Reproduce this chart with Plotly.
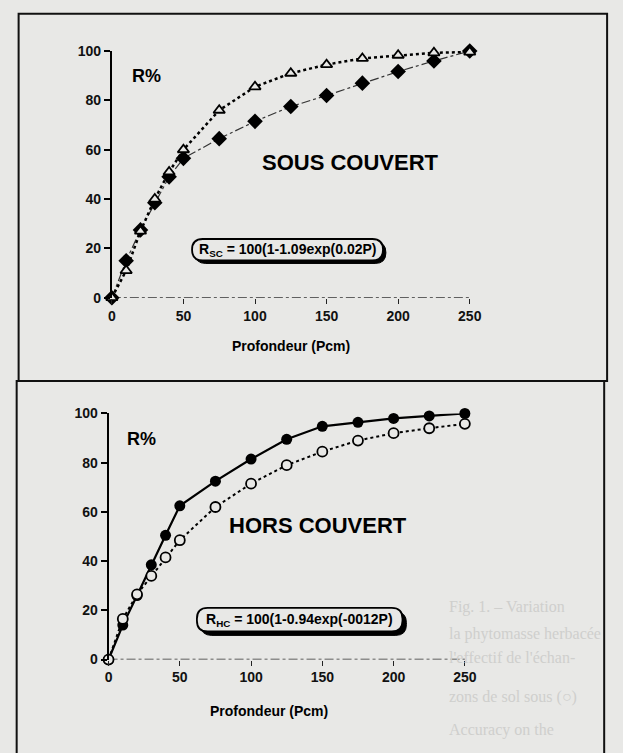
import plotly.graph_objects as go

# ---------------- data ----------------
depth = [0, 10, 20, 30, 40, 50, 75, 100, 125, 150, 175, 200, 225, 250]
sc_triangle = [0, 11, 27, 40, 51, 60, 76, 85.5, 91, 94.5, 97, 98.3, 99.3, 99.6]
sc_diamond = [0, 15, 27.5, 38.5, 49, 56.5, 64.5, 71.5, 77.5, 82, 87, 91.7, 96, 100]
hc_filled = [0, 14, 26, 38.5, 50.5, 62.5, 72.5, 81.5, 89.5, 94.8, 96.4, 98, 99, 100]
hc_open = [0, 16.5, 26.5, 34, 41.5, 48.5, 62, 71.5, 79, 84.5, 89, 92, 94, 95.8]
x_ticks = [0, 50, 100, 150, 200, 250]
y_ticks = [0, 20, 40, 60, 80, 100]

W, H = 623, 753
BG = "#e8e8e6"
FONT = "Liberation Sans, Arial, sans-serif"


def px(x):
    return x / W


def py(y):
    return 1 - y / H


fig = go.Figure()

# top chart (sous couvert)
fig.add_trace(go.Scatter(x=depth, y=sc_diamond, xaxis="x", yaxis="y", mode="lines+markers",
                         line=dict(color="#333", width=1.2, dash="dashdot"),
                         marker=dict(symbol="diamond", size=12, color="black"),
                         cliponaxis=False, showlegend=False))
fig.add_trace(go.Scatter(x=depth, y=sc_triangle, xaxis="x", yaxis="y", mode="lines+markers",
                         line=dict(color="black", width=2.5, dash="dot"),
                         marker=dict(symbol="triangle-up", size=10, color=BG,
                                     line=dict(color="black", width=1.8)),
                         cliponaxis=False, showlegend=False))

# bottom chart (hors couvert)
fig.add_trace(go.Scatter(x=depth, y=hc_filled, xaxis="x2", yaxis="y2", mode="lines+markers",
                         line=dict(color="black", width=2.2),
                         marker=dict(symbol="circle", size=11, color="black"),
                         cliponaxis=False, showlegend=False))
fig.add_trace(go.Scatter(x=depth, y=hc_open, xaxis="x2", yaxis="y2", mode="lines+markers",
                         line=dict(color="black", width=2, dash="dot"),
                         marker=dict(symbol="circle", size=10, color=BG,
                                     line=dict(color="black", width=1.8)),
                         cliponaxis=False, showlegend=False))

xcommon = dict(range=[0, 250], tickvals=x_ticks, ticks="outside", ticklen=5, tickwidth=1.2,
               tickcolor="#222", showline=False, showgrid=False, zeroline=False,
               tickfont=dict(family=FONT, size=14, color="#111", weight="bold"))
ycommon = dict(range=[0, 100], tickvals=y_ticks, ticks="outside", ticklen=6, tickwidth=1.5,
               tickcolor="black", showline=True, linecolor="black", linewidth=2,
               showgrid=False, zeroline=False,
               tickfont=dict(family=FONT, size=14, color="#111", weight="bold"))

fig.update_layout(
    width=W, height=H, margin=dict(l=0, r=0, t=0, b=0),
    paper_bgcolor=BG, plot_bgcolor="rgba(0,0,0,0)",
    xaxis=dict(domain=[px(110.7), px(478)], anchor="y", **xcommon),
    yaxis=dict(domain=[py(296), py(44)], anchor="x", **ycommon),
    xaxis2=dict(domain=[px(107.3), px(473)], anchor="y2", **xcommon),
    yaxis2=dict(domain=[py(665.7), py(414.3)], anchor="x2", **ycommon),
)


def rrect(x0, y0, x1, y1, r):
    X0, X1 = px(x0), px(x1)
    Y0, Y1 = py(y0), py(y1)
    rx, ry = r / W, r / H
    return (f"M {X0+rx},{Y0} L {X1-rx},{Y0} Q {X1},{Y0} {X1},{Y0-ry} "
            f"L {X1},{Y1+ry} Q {X1},{Y1} {X1-rx},{Y1} L {X0+rx},{Y1} "
            f"Q {X0},{Y1} {X0},{Y1+ry} L {X0},{Y0-ry} Q {X0},{Y0} {X0+rx},{Y0} Z")


shapes = []
# frames
shapes.append(dict(type="rect", xref="paper", yref="paper", x0=px(15), x1=px(619),
                   y0=py(381), y1=py(6), line=dict(color="#111", width=2), layer="below"))
shapes.append(dict(type="rect", xref="paper", yref="paper", x0=px(13), x1=px(616),
                   y0=py(770), y1=py(381), line=dict(color="#111", width=2), layer="below"))
# x-axis baselines (dash-dot)
for xr, yr in (("x domain", "y"), ("x2 domain", "y2")):
    shapes.append(dict(type="line", xref=xr, yref=yr, x0=0, x1=1, y0=0, y1=0,
                       line=dict(color="#333", width=1.5, dash="dashdot"), layer="below"))
# equation boxes: shadow + box
for (bx0, by0, bx1, by1, off) in ((193, 236, 389, 258, 3), (198, 613, 409, 637, 4)):
    shapes.append(dict(type="path", xref="paper", yref="paper",
                       path=rrect(bx0 + off, by0 + off, bx1 + off, by1 + off, 11),
                       fillcolor="black", line=dict(color="black", width=1)))
    shapes.append(dict(type="path", xref="paper", yref="paper",
                       path=rrect(bx0, by0, bx1, by1, 11),
                       fillcolor=BG, line=dict(color="black", width=1.8)))
fig.update_layout(shapes=shapes)

ann = []


def text(x, y, s, size, bold=True, color="black", family=FONT, xanchor="center"):
    ann.append(dict(x=px(x), y=py(y), xref="paper", yref="paper", text=s, showarrow=False,
                    xanchor=xanchor, yanchor="middle",
                    font=dict(family=family, size=size, color=color,
                              weight="bold" if bold else "normal")))


# faint bleed-through caption text from the scanned page
ghost = "#cfcfcd"
GF = "Liberation Serif, serif"
ghost_lines = ["Fig. 1. – Variation", "la phytomasse herbacée",
               "l'effectif de l'échan-", "zons de sol sous (○)",
               "Accuracy on the"]
for s, yy in zip(ghost_lines, [612, 640, 664, 704, 738]):
    text(455, yy, s, 16, bold=False, color=ghost, family=GF, xanchor="left")

# top chart labels
text(146, 69, "R%", 18)
text(356, 158, "SOUS COUVERT", 22)
text(291, 247, "R<sub>SC</sub> = 100(1-1.09exp(0.02P)", 14)
text(295, 345, "Profondeur (Pcm)", 14)
# bottom chart labels
text(141, 440, "R%", 18)
text(322, 529, "HORS COUVERT", 22)
text(303, 625, "R<sub>HC</sub> = 100(1-0.94exp(-0012P)", 14)
text(272, 718, "Profondeur (Pcm)", 14)

fig.update_layout(annotations=ann)
fig.write_html("out.html", config={"displayModeBar": False},
               post_script="document.body.style.margin='0';document.body.style.overflow='hidden';")
